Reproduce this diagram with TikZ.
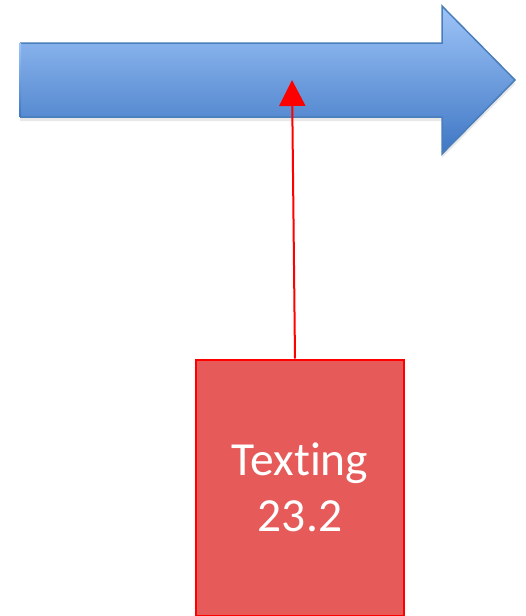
\documentclass[tikz,border=0pt]{standalone}
\usepackage{fontspec}
\setmainfont[Ligatures=NoCommon]{Carlito}
\usetikzlibrary{arrows.meta,shadows}
\definecolor{arrowtop}{HTML}{9EC4F8}
\definecolor{arrowbot}{HTML}{3F77C4}
\definecolor{arrowedge}{HTML}{4A7EBB}
\definecolor{boxfill}{HTML}{E65A5A}
\definecolor{redline}{HTML}{FF0000}
\tikzset{
  bigarrow/.style={draw=arrowedge, line width=1.5pt, line join=miter,
    top color=arrowtop, bottom color=arrowbot,
    drop shadow={opacity=0.18, shadow xshift=0pt, shadow yshift=-4pt}},
  textbox/.style={draw=redline, fill=boxfill, line width=2pt, minimum width=208pt,
    minimum height=256pt, inner sep=0pt, text=white, align=center,
    font=\fontsize{47.5}{57}\selectfont},
  pointer/.style={draw=redline, line width=2pt, -{Triangle[width=26pt,length=26pt]}}
}
\begin{document}
\begin{tikzpicture}[x=1pt,y=-1pt]
\useasboundingbox (0,0) rectangle (525,616);
% blue timeline arrow
\path[bigarrow] (20,43) -- (442,43) -- (442,6) -- (515,80) -- (442,154) -- (442,117) -- (20,117);
\shade[top color=arrowtop, bottom color=arrowbot] (19,43.8) rectangle (21,116.2);
\coordinate (tip) at (292,80);
% red box
\node[textbox] (box) at (300,487.5) {Texting\\[-1pt]23.2};
\coordinate (src) at ([xshift=-5pt]box.north);
\draw[pointer] (src) -- (tip);
\end{tikzpicture}
\end{document}
